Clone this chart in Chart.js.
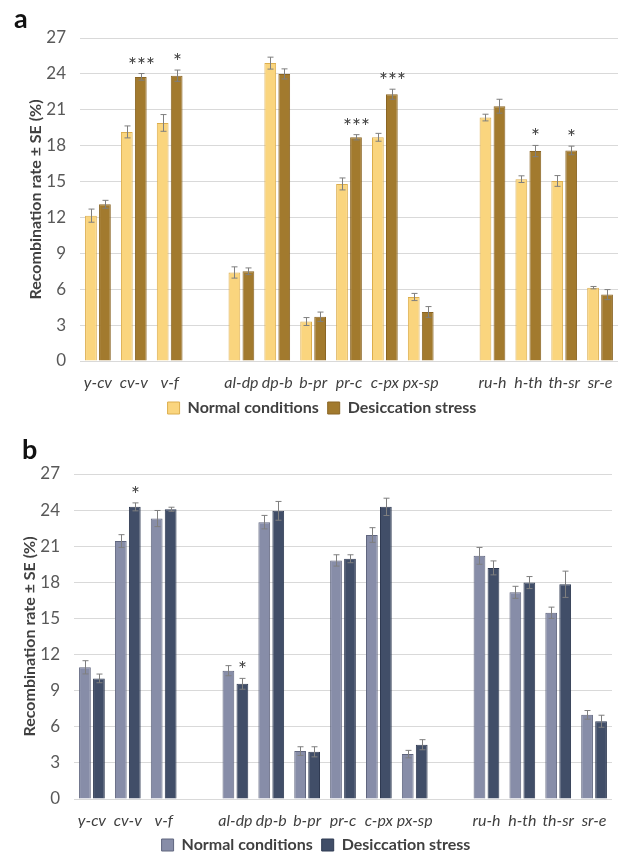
<!DOCTYPE html>
<html>
<head>
<meta charset="utf-8">
<script src="https://cdn.jsdelivr.net/npm/chart.js@4.4.1/dist/chart.umd.min.js"></script>
<style>
  body { margin: 0; background: #fff; }
  .panel { position: relative; width: 628px; }
  .letter { position: absolute; font: bold 27px Lato, "Liberation Sans", sans-serif; color: #111; }
</style>
</head>
<body>
<div class="panel" style="height:420px">
  <div class="letter" style="left:14px; top:1px">a</div>
  <canvas id="chartA" width="628" height="420"></canvas>
</div>
<div class="panel" style="height:432px">
  <div class="letter" style="left:22px; top:12px">b</div>
  <canvas id="chartB" width="628" height="432"></canvas>
</div>
<script>
// categories (empty strings = gaps between chromosome groups)
const intervals = ['y-cv', 'cv-v', 'v-f', '', 'al-dp', 'dp-b', 'b-pr', 'pr-c', 'c-px', 'px-sp', '', 'ru-h', 'h-th', 'th-sr', 'sr-e'];
const yTicks = [0, 3, 6, 9, 12, 15, 18, 21, 24, 27];

// panel a
const normalA = [12.15, 19.15, 19.9, null, 7.4, 24.9, 3.3, 14.8, 18.7, 5.35, null, 20.35, 15.2, 15.05, 6.13];
const stressA = [13.1, 23.75, 23.85, null, 7.5, 24.0, 3.7, 18.7, 22.3, 4.1, null, 21.3, 17.55, 17.6, 5.55];
const seNormalA = [0.55, 0.5, 0.7, null, 0.47, 0.5, 0.33, 0.5, 0.33, 0.3, null, 0.28, 0.28, 0.45, 0.1];
const seStressA = [0.33, 0.28, 0.47, null, 0.28, 0.42, 0.39, 0.22, 0.42, 0.45, null, 0.58, 0.47, 0.36, 0.42];
const sigA = ['', '***', '*', '', '', '', '', '***', '***', '', '', '', '*', '*', ''];

// panel b
const normalB = [10.94, 21.43, 23.3, null, 10.66, 23.0, 3.98, 19.82, 21.93, 3.73, null, 20.2, 17.17, 15.47, 6.99];
const stressB = [10.02, 24.27, 24.07, null, 9.57, 23.94, 3.92, 19.96, 24.27, 4.51, null, 19.2, 17.98, 17.84, 6.46];
const seNormalB = [0.55, 0.53, 0.67, null, 0.42, 0.56, 0.36, 0.47, 0.61, 0.31, null, 0.7, 0.5, 0.47, 0.36];
const seStressB = [0.36, 0.33, 0.17, null, 0.45, 0.78, 0.42, 0.33, 0.72, 0.42, null, 0.58, 0.5, 1.09, 0.5];
const sigB = ['', '*', '', '', '*', '', '', '', '', '', '', '', '', '', ''];

const FONT = 'Lato, "Open Sans", sans-serif';

// error bars + significance stars, drawn from the y scale
function errorPlugin(seLists, sig) {
    return {
        id: 'errBars',
        afterDatasetsDraw(chart) {
            const ctx = chart.ctx;
            const y = chart.scales.y;
            ctx.save();
            ctx.strokeStyle = '#7f7f7f';
            ctx.lineWidth = 1;
            chart.data.datasets.forEach((ds, d) => {
                const meta = chart.getDatasetMeta(d);
                ds.data.forEach((v, i) => {
                    if (v === null) return;
                    const se = seLists[d][i];
                    const x = Math.round(meta.data[i].x) + 0.5;
                    const top = y.getPixelForValue(v + se);
                    const bot = y.getPixelForValue(v - se);
                    ctx.beginPath();
                    ctx.moveTo(x, top); ctx.lineTo(x, bot);
                    ctx.moveTo(x - 3, top); ctx.lineTo(x + 3, top);
                    ctx.moveTo(x - 3, bot); ctx.lineTo(x + 3, bot);
                    ctx.stroke();
                    if (d === 1 && sig[i]) {
                        ctx.fillStyle = '#404040';
                        ctx.font = '21px ' + FONT;
                        ctx.textAlign = 'center';
                        ctx.textBaseline = 'alphabetic';
                        ctx.fillText(sig[i], x, top - 1);
                    }
                });
            });
            ctx.restore();
        }
    };
}

// box: [top padding, left padding, right padding, y-axis width, x-axis height, bottom padding]
function makeChart(id, normal, stress, seN, seS, sig, colors, box) {
    return new Chart(document.getElementById(id), {
        type: 'bar',
        data: {
            labels: intervals,
            datasets: [{
                label: 'Normal conditions',
                data: normal,
                backgroundColor: colors[0],
                borderColor: colors[1],
                borderWidth: 1
            }, {
                label: 'Desiccation stress',
                data: stress,
                backgroundColor: colors[2],
                borderColor: colors[3],
                borderWidth: 1
            }]
        },
        options: {
            responsive: false,
            animation: false,
            layout: { padding: { top: box[0], left: box[1], right: box[2], bottom: box[5] } },
            datasets: { bar: { categoryPercentage: 0.78, barPercentage: 0.84 } },
            plugins: {
                tooltip: { enabled: false },
                legend: {
                    position: 'bottom',
                    labels: {
                        boxWidth: 12,
                        boxHeight: 12,
                        padding: 9,
                        color: '#404040',
                        font: { family: FONT, size: 16, weight: 'bold' }
                    }
                }
            },
            scales: {
                x: {
                    afterFit: (s) => { s.height = box[4]; },
                    grid: { display: false, drawTicks: false },
                    border: { display: false },
                    ticks: {
                        autoSkip: false,
                        maxRotation: 0,
                        padding: 12,
                        color: '#404040',
                        font: { family: FONT, size: 16, style: 'italic' }
                    }
                },
                y: {
                    min: 0,
                    max: 27,
                    afterFit: (s) => { s.width = box[3]; },
                    afterBuildTicks: (s) => { s.ticks = yTicks.map(v => ({ value: v })); },
                    grid: { color: '#d9d9d9', drawTicks: false },
                    border: { display: false },
                    ticks: {
                        padding: 14,
                        color: '#595959',
                        font: { family: FONT, size: 17 }
                    },
                    title: {
                        display: true,
                        text: 'Recombination rate ± SE (%)',
                        color: '#404040',
                        padding: { top: 0, bottom: 2 },
                        font: { family: FONT, size: 16, weight: 'bold' }
                    }
                }
            }
        },
        plugins: [errorPlugin([seN, seS], sig)]
    });
}

makeChart('chartA', normalA, stressA, seNormalA, seStressA, sigA,
    ['#fad57e', '#dcae4e', '#a27a2e', '#8a6524'],
    [38, 26, 10, 54, 30, -6]);
makeChart('chartB', normalB, stressB, seNormalB, seStressB, sigB,
    ['#878da8', '#60667f', '#414e68', '#2f3a52'],
    [54, 20, 16, 54, 29, -11]);
</script>
</body>
</html>
